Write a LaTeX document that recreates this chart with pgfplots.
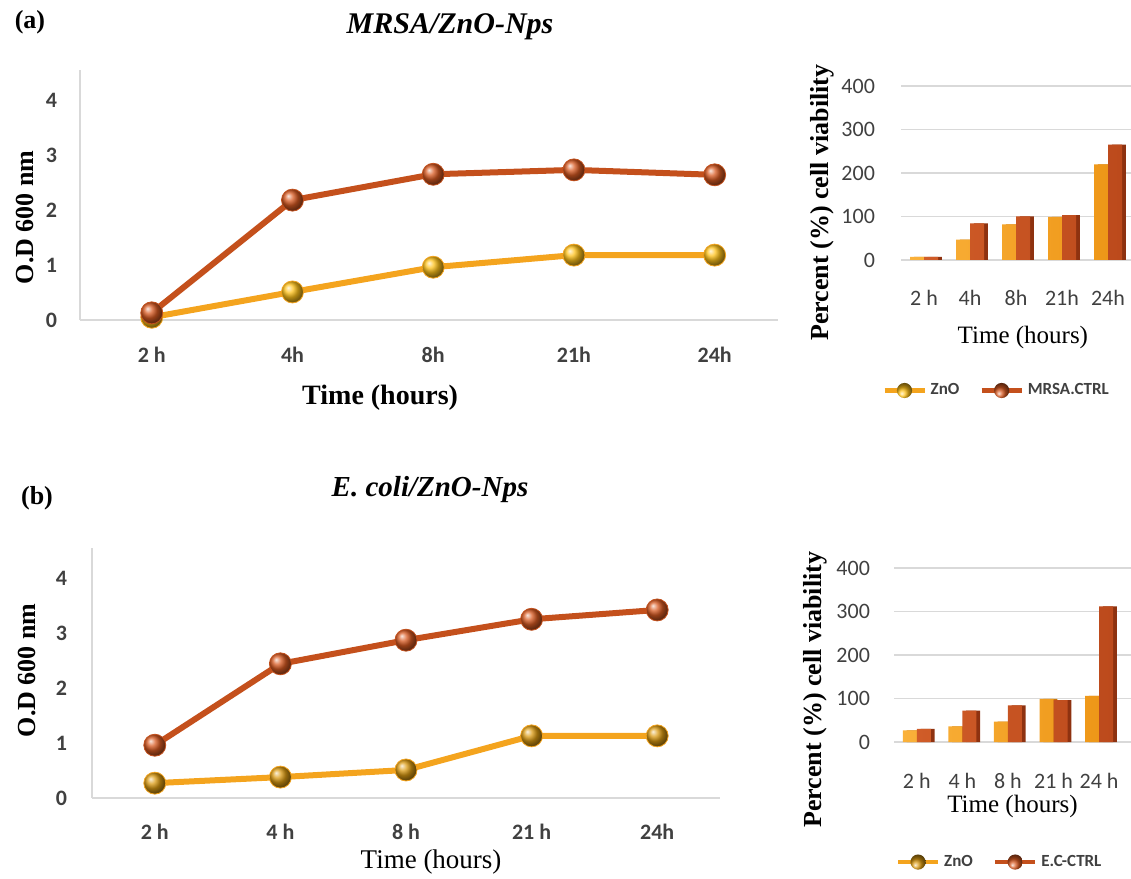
\documentclass[border=0pt]{standalone}
\usepackage{pgfplots}
\pgfplotsset{compat=1.18}
\usepackage{fontspec}
\setmainfont{Liberation Serif}
\newfontfamily\calib{Carlito}

\definecolor{znoline}{HTML}{F4A41E}
\definecolor{znoball}{HTML}{FFC21A}
\definecolor{znoballb}{HTML}{DA9A12}
\definecolor{ctrlline}{HTML}{C4501C}
\definecolor{ctrlball}{HTML}{D85A22}
\definecolor{znobarL}{HTML}{FAB13A}
\definecolor{znobarR}{HTML}{EE9718}
\definecolor{znoside}{HTML}{C9780C}
\definecolor{ctrlbarL}{HTML}{D05C28}
\definecolor{ctrlbarR}{HTML}{BC4A1C}
\definecolor{ctrlside}{HTML}{8E3210}
\definecolor{ticktext}{HTML}{404040}
\definecolor{axisgray}{HTML}{D9D9D9}

% growth curves (O.D 600 nm)
\pgfplotstableread{
t zno ctrl
0 0.05 0.13
1 0.51 2.18
2 0.96 2.65
3 1.18 2.73
4 1.18 2.64
}\mrsaod
\pgfplotstableread{
t zno ctrl
0 0.27 0.96
1 0.38 2.44
2 0.51 2.87
3 1.13 3.25
4 1.13 3.42
}\ecoliod
% viability (%)
\pgfplotstableread{
t zno ctrl
0 7 7
1 47 84
2 82 100
3 99 103
4 220 265
}\mrsavia
\pgfplotstableread{
t zno ctrl
0 27 30
1 36 72
2 47 84
3 99 96
4 106 312
}\ecolivia

\pgfplotsset{
  odchart/.style={
    scale only axis,
    ymin=0, ymax=4.55,
    ytick={0,1,2,3,4},
    xtick={0,1,2,3,4},
    axis x line*=bottom, axis y line*=left,
    axis line style={draw=axisgray, line width=1.2pt},
    tick style={draw=none},
    ticklabel style={font=\calib\bfseries\fontsize{11}{13}\selectfont, text=ticktext},
    /pgf/number format/assume math mode=true,
    clip=false,
  },
  znoline/.style={color=znoline, line width=3pt, mark=ball, mark size=5.5pt,
    mark options={ball color=#1, line width=0.4pt}},
  ctrlline/.style={color=ctrlline, line width=3pt, mark=ball, mark size=5.5pt,
    mark options={ball color=ctrlball, line width=0.4pt}},
  viachart/.style={
    scale only axis,
    ybar=0pt, bar width=7pt,
    ymin=0, ymax=400,
    ytick={0,100,200,300,400},
    xtick={0,1,2,3,4},
    axis x line*=bottom,
    axis y line*=left,
    x axis line style={draw=axisgray, line width=1pt},
    y axis line style={draw=none},
    ymajorgrids, grid style={draw=axisgray, line width=0.8pt},
    tick style={draw=none},
    ticklabel style={font=\calib\fontsize{11}{13}\selectfont, text=ticktext},
    /pgf/number format/assume math mode=true,
    clip=false,
    legend columns=2,
    legend style={draw=none, fill=none, font=\calib\bfseries\fontsize{8.5}{10}\selectfont,
      text=ticktext, /tikz/every even column/.append style={column sep=8pt}},
  },
  % darker depth face behind each front bar
  sideface/.style={forget plot, draw=none, fill=#1},
}

\begin{document}
\begin{tikzpicture}
\path[use as bounding box] (0,0) rectangle (565.5pt,439.5pt);

% panel labels and titles
\node[font=\bfseries\fontsize{13}{15}\selectfont] at (15pt,428.5pt) {(a)};
\node[font=\bfseries\itshape\fontsize{15}{17}\selectfont] at (225pt,426pt) {MRSA/ZnO-Nps};
\node[font=\bfseries\fontsize{13}{15}\selectfont] at (18.5pt,190.5pt) {(b)};
\node[font=\bfseries\itshape\fontsize{14.5}{17}\selectfont] at (215pt,194.5pt) {E. coli/ZnO-Nps};

% (a) growth curve
\begin{axis}[odchart,
  at={(40pt,279.5pt)}, anchor=south west,
  width=349pt, height=125.1pt,
  xmin=-0.51, xmax=4.45,
  xticklabels={2 h,4h,8h,21h,24h},
  xticklabel style={yshift=-10pt},
  yticklabel style={xshift=-8pt},
  xlabel={Time (hours)},
  xlabel style={at={([yshift=-39pt]axis description cs:0.43,0)}, anchor=center,
    font=\bfseries\fontsize{14}{16}\selectfont},
  ylabel={O.D 600 nm},
  ylabel style={at={([xshift=-27.5pt]axis description cs:0,0.41)}, anchor=center,
    font=\bfseries\fontsize{13}{15}\selectfont},
]
\addplot[znoline=znoball] table[x=t, y=zno] {\mrsaod};
\addplot[ctrlline] table[x=t, y=ctrl] {\mrsaod};
\end{axis}

% (b) growth curve
\begin{axis}[odchart,
  at={(46pt,40.5pt)}, anchor=south west,
  width=314pt, height=125.1pt,
  xmin=-0.5, xmax=4.5,
  xticklabels={2 h,4 h,8 h,21 h,24h},
  xticklabel style={yshift=-9.5pt},
  yticklabel style={xshift=-9pt},
  xlabel={Time (hours)},
  xlabel style={at={([yshift=-32pt]axis description cs:0.54,0)}, anchor=center,
    font=\fontsize{13.5}{16}\selectfont},
  ylabel={O.D 600 nm},
  ylabel style={at={([xshift=-32.5pt]axis description cs:0,0.51)}, anchor=center,
    font=\bfseries\fontsize{13}{15}\selectfont},
]
\addplot[znoline=znoballb] table[x=t, y=zno] {\ecoliod};
\addplot[ctrlline] table[x=t, y=ctrl] {\ecoliod};
\end{axis}

% (a) viability
\begin{axis}[viachart,
  at={(450.5pt,309.5pt)}, anchor=south west,
  width=115pt, height=87pt,
  xmin=-0.5, xmax=4.5,
  xticklabels={2 h,4h,8h,21h,24h},
  xticklabel style={yshift=-7.5pt},
  yticklabel style={xshift=-9.5pt},
  xlabel={Time (hours)},
  xlabel style={at={([yshift=-38.5pt]axis description cs:0.53,0)}, anchor=center,
    font=\fontsize{12.5}{15}\selectfont},
  ylabel={Percent (\%) cell viability},
  ylabel style={at={([xshift=-39.5pt]axis description cs:0,0.33)}, anchor=center,
    font=\bfseries\fontsize{13}{15}\selectfont},
  legend style={at={(0.42,-0.75)}, anchor=center},
]
\addplot[sideface=znoside, bar shift=-1.6pt] table[x=t, y=zno] {\mrsavia};
\addplot[draw=none, left color=znobarL, right color=znobarR, bar shift=-3.5pt,
  legend image code/.code={
    \draw[znoline, line width=2.2pt] (0pt,0pt) -- (20pt,0pt);
    \shade[ball color=znoball] (10pt,0pt) circle (3.8pt);}]
  table[x=t, y=zno] {\mrsavia};
\addplot[sideface=ctrlside, bar shift=5.4pt] table[x=t, y=ctrl] {\mrsavia};
\addplot[draw=none, left color=ctrlbarL, right color=ctrlbarR, bar shift=3.5pt,
  legend image code/.code={
    \draw[ctrlline, line width=2.2pt] (0pt,0pt) -- (20pt,0pt);
    \shade[ball color=ctrlball] (10pt,0pt) circle (3.8pt);}]
  table[x=t, y=ctrl] {\mrsavia};
\legend{ZnO, MRSA.CTRL}
\end{axis}

% (b) viability
\begin{axis}[viachart,
  at={(447pt,68.5pt)}, anchor=south west,
  width=118.5pt, height=87pt,
  xmin=-0.5, xmax=4.7,
  xticklabels={2 h,4 h,8 h,21 h,24 h},
  xticklabel style={yshift=-8pt},
  yticklabel style={xshift=-8.5pt},
  xlabel={Time (hours)},
  xlabel style={at={([yshift=-32pt]axis description cs:0.5,0)}, anchor=center,
    font=\fontsize{12.5}{15}\selectfont},
  ylabel={Percent (\%) cell viability},
  ylabel style={at={([xshift=-39.5pt]axis description cs:0,0.30)}, anchor=center,
    font=\bfseries\fontsize{13}{15}\selectfont},
  legend style={at={(0.45,-0.69)}, anchor=center},
]
\addplot[sideface=znoside, bar shift=-1.6pt] table[x=t, y=zno] {\ecolivia};
\addplot[draw=none, left color=znobarL, right color=znobarR, bar shift=-3.5pt,
  legend image code/.code={
    \draw[znoline, line width=2.2pt] (0pt,0pt) -- (20pt,0pt);
    \shade[ball color=znoballb] (10pt,0pt) circle (3.8pt);}]
  table[x=t, y=zno] {\ecolivia};
\addplot[sideface=ctrlside, bar shift=5.4pt] table[x=t, y=ctrl] {\ecolivia};
\addplot[draw=none, left color=ctrlbarL, right color=ctrlbarR, bar shift=3.5pt,
  legend image code/.code={
    \draw[ctrlline, line width=2.2pt] (0pt,0pt) -- (20pt,0pt);
    \shade[ball color=ctrlball] (10pt,0pt) circle (3.8pt);}]
  table[x=t, y=ctrl] {\ecolivia};
\legend{ZnO, E.C-CTRL}
\end{axis}
\end{tikzpicture}
\end{document}
